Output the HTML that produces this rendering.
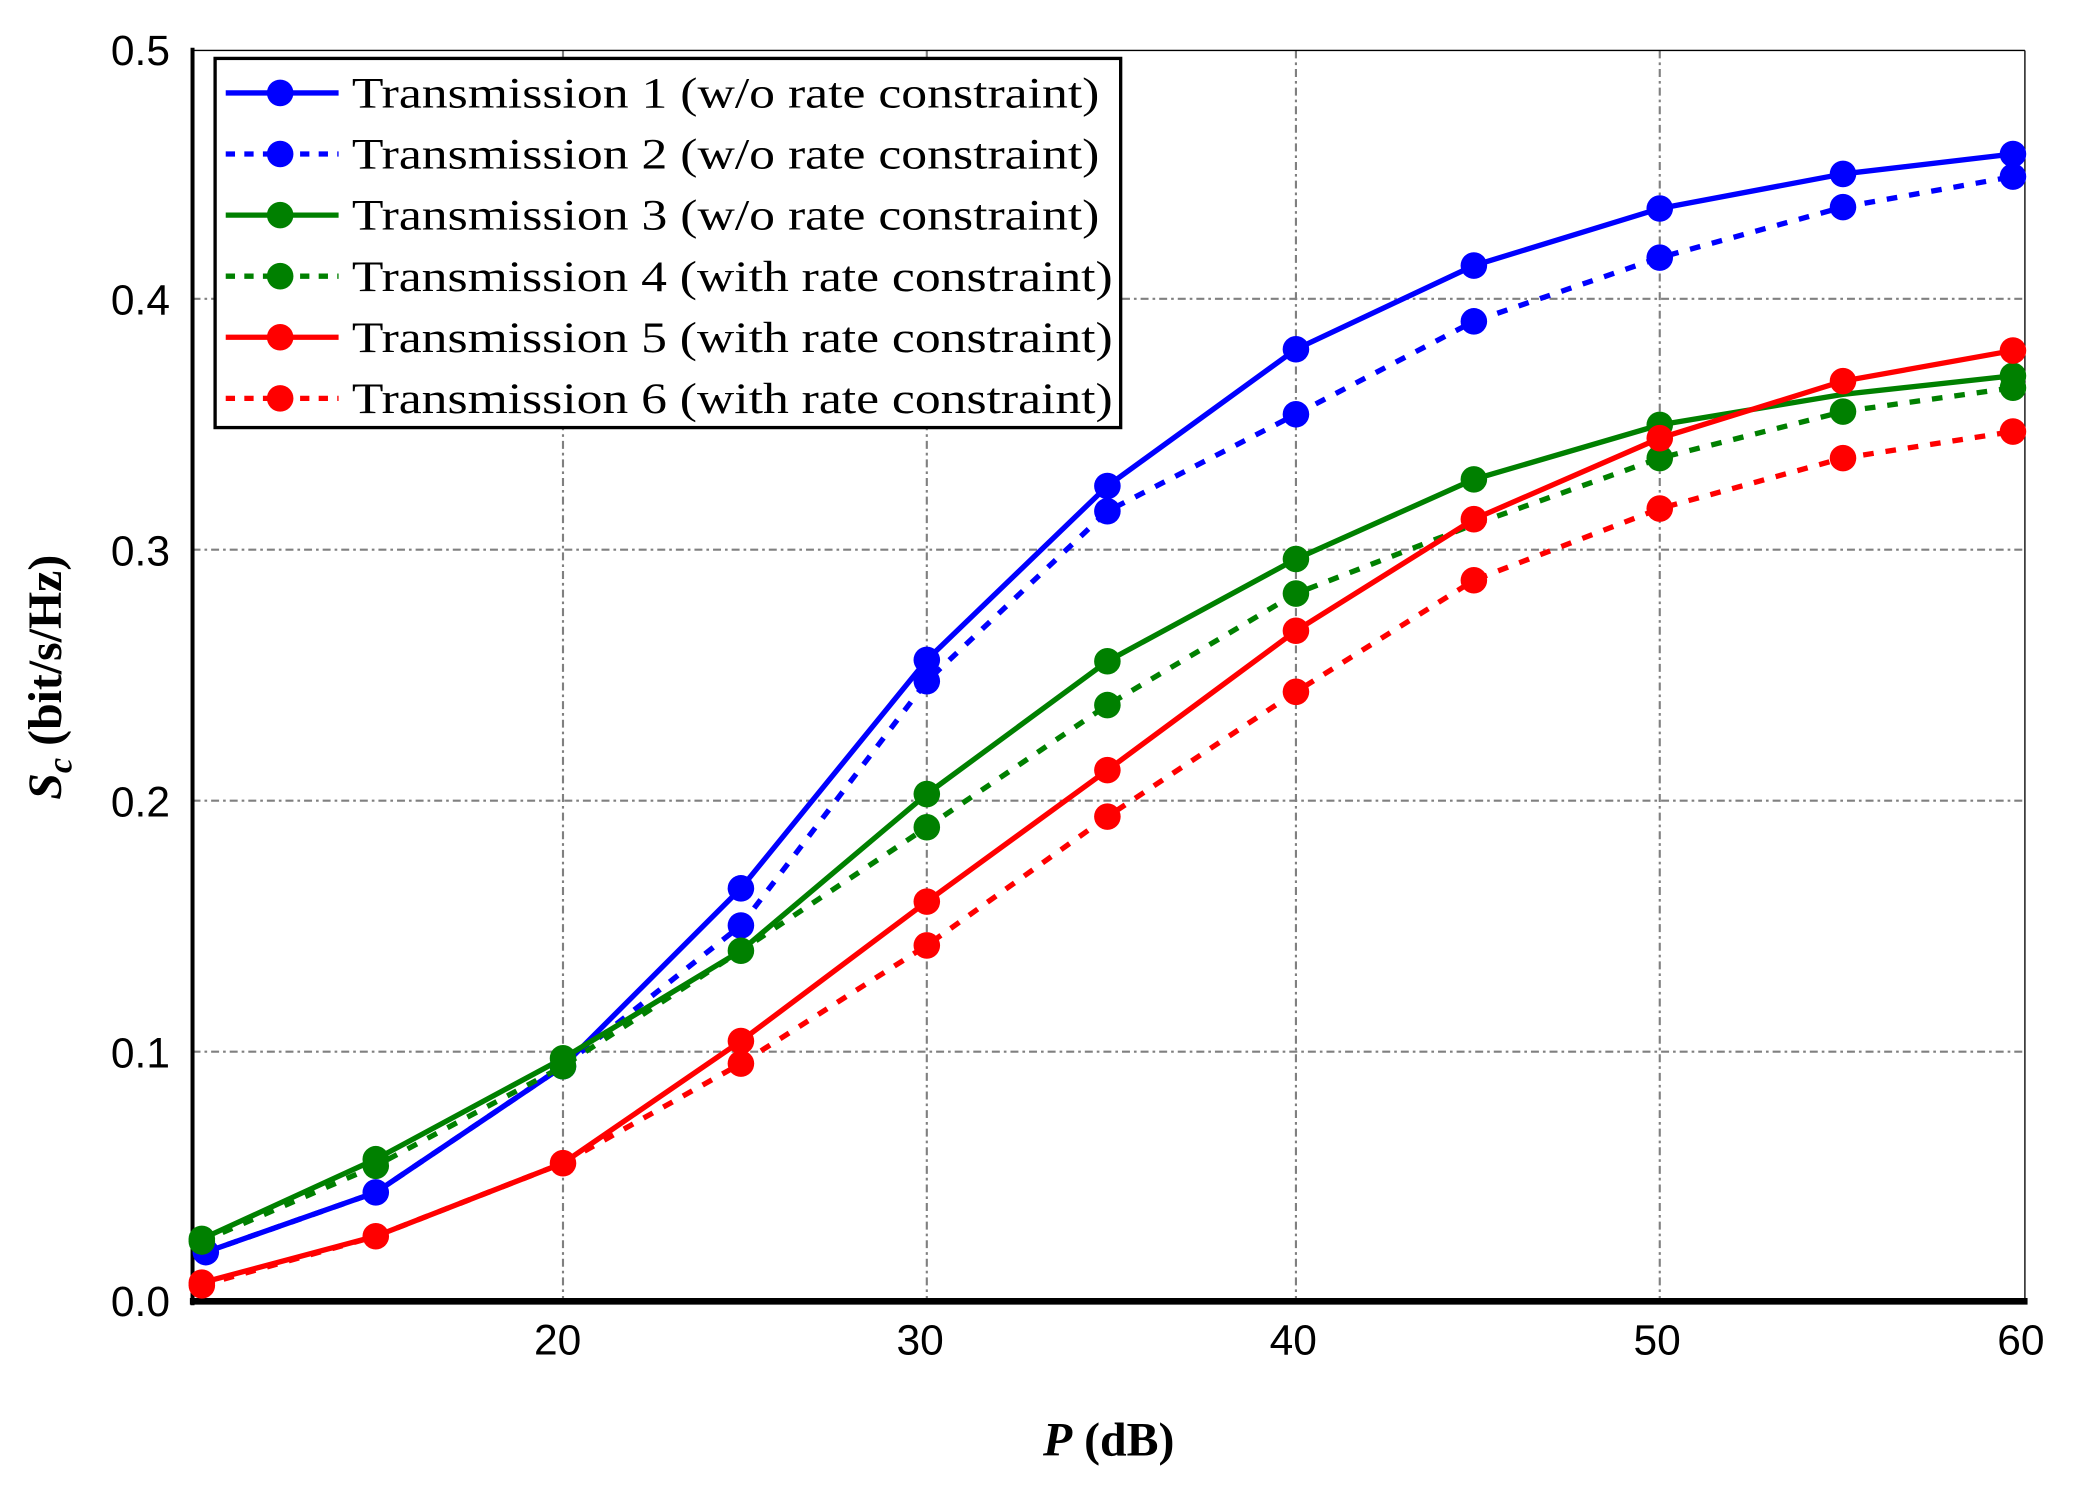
<!DOCTYPE html>
<html><head><meta charset="utf-8"><style>html,body{margin:0;padding:0;background:#fff}svg{display:block}</style></head>
<body>
<svg width="2082" height="1501" viewBox="0 0 1568 1130.4" preserveAspectRatio="none" xmlns="http://www.w3.org/2000/svg">
<rect width="1568" height="1131" fill="#fff"/>
<g stroke="#808080" stroke-width="1.6" stroke-dasharray="6,3,2,3" fill="none">
<line x1="424" y1="38" x2="424" y2="980"/><line x1="698" y1="38" x2="698" y2="980"/>
<line x1="976" y1="38" x2="976" y2="980"/><line x1="1250" y1="38" x2="1250" y2="980"/>
<line x1="145" y1="225" x2="1525" y2="225"/><line x1="145" y1="414" x2="1525" y2="414"/>
<line x1="145" y1="603" x2="1525" y2="603"/><line x1="145" y1="792" x2="1525" y2="792"/>
</g>
<g stroke="#000" fill="none">
<line x1="145" y1="38" x2="1525" y2="38" stroke-width="1"/>
<line x1="1525" y1="38" x2="1525" y2="980" stroke-width="1"/>
<line x1="145" y1="36" x2="145" y2="983" stroke-width="3"/>
<line x1="143" y1="980" x2="1527" y2="980" stroke-width="5"/>
</g>
<g font-family="Liberation Sans, sans-serif" font-size="32" fill="#000" text-anchor="end">
<text x="128" y="49">0.5</text><text x="128" y="237">0.4</text><text x="128" y="426">0.3</text>
<text x="128" y="615">0.2</text><text x="128" y="804">0.1</text><text x="128" y="991">0.0</text>
</g>
<g font-family="Liberation Sans, sans-serif" font-size="32" fill="#000" text-anchor="middle">
<text x="420" y="1020">20</text><text x="693" y="1020">30</text><text x="974" y="1020">40</text>
<text x="1248" y="1020">50</text><text x="1522" y="1020">60</text>
</g>
<text x="835" y="1096" font-family="Liberation Serif, serif" font-weight="bold" font-size="36" text-anchor="middle"><tspan font-style="italic">P</tspan> (dB)</text>
<text transform="translate(46,510) rotate(-90)" font-family="Liberation Serif, serif" font-weight="bold" font-size="36" text-anchor="middle"><tspan font-style="italic">S</tspan><tspan font-style="italic" font-size="26" dy="8">c</tspan><tspan dy="-8"> (bit/s/Hz)</tspan></text>
<g fill="none" stroke-width="4" stroke-linejoin="round">
<polyline stroke="#0000ff" points="155,943 283,898 424,803 558,669 698,497 834,366 976,263 1110,200 1250,157 1388,131 1516,116"/>
<polyline stroke="#0000ff" stroke-dasharray="8,9" points="155,943 283,898 424,803 558,697 698,513 834,385 976,312 1110,242 1250,194 1388,156 1516,133"/>
<polyline stroke="#008000" points="152,933 283,873 424,797 558,716 698,598 834,498 976,421 1110,361 1250,320 1388,297 1516,283"/>
<polyline stroke="#008000" stroke-dasharray="8,9" points="152,935 283,878 424,803 558,716 698,623 834,531 976,447 1110,395 1250,345 1388,310 1516,292"/>
<polyline stroke="#ff0000" points="152,966 283,931 424,876 558,784 698,679 834,580 976,475 1110,391 1250,330 1388,287 1516,264"/>
<polyline stroke="#ff0000" stroke-dasharray="8,9" points="152,968 283,931 424,876 558,801 698,712 834,615 976,521 1110,437 1250,383 1388,345 1516,325"/>
</g>
<g fill="#0000ff">
<circle cx="155" cy="943" r="10"/><circle cx="283" cy="898" r="10"/><circle cx="424" cy="803" r="10"/><circle cx="558" cy="669" r="10"/><circle cx="698" cy="497" r="10"/><circle cx="834" cy="366" r="10"/><circle cx="976" cy="263" r="10"/><circle cx="1110" cy="200" r="10"/><circle cx="1250" cy="157" r="10"/><circle cx="1388" cy="131" r="10"/><circle cx="1516" cy="116" r="10"/>
<circle cx="558" cy="697" r="10"/><circle cx="698" cy="513" r="10"/><circle cx="834" cy="385" r="10"/><circle cx="976" cy="312" r="10"/><circle cx="1110" cy="242" r="10"/><circle cx="1250" cy="194" r="10"/><circle cx="1388" cy="156" r="10"/><circle cx="1516" cy="133" r="10"/>
</g>
<g fill="#008000">
<circle cx="152" cy="933" r="10"/><circle cx="283" cy="873" r="10"/><circle cx="424" cy="797" r="10"/><circle cx="558" cy="716" r="10"/><circle cx="698" cy="598" r="10"/><circle cx="834" cy="498" r="10"/><circle cx="976" cy="421" r="10"/><circle cx="1110" cy="361" r="10"/><circle cx="1250" cy="320" r="10"/><circle cx="1516" cy="283" r="10"/>
<circle cx="152" cy="935" r="10"/><circle cx="283" cy="878" r="10"/><circle cx="424" cy="803" r="10"/><circle cx="698" cy="623" r="10"/><circle cx="834" cy="531" r="10"/><circle cx="976" cy="447" r="10"/><circle cx="1250" cy="345" r="10"/><circle cx="1388" cy="310" r="10"/><circle cx="1516" cy="292" r="10"/>
</g>
<g fill="#ff0000">
<circle cx="152" cy="966" r="10"/><circle cx="283" cy="931" r="10"/><circle cx="424" cy="876" r="10"/><circle cx="558" cy="784" r="10"/><circle cx="698" cy="679" r="10"/><circle cx="834" cy="580" r="10"/><circle cx="976" cy="475" r="10"/><circle cx="1110" cy="391" r="10"/><circle cx="1250" cy="330" r="10"/><circle cx="1388" cy="287" r="10"/><circle cx="1516" cy="264" r="10"/>
<circle cx="152" cy="968" r="10"/><circle cx="558" cy="801" r="10"/><circle cx="698" cy="712" r="10"/><circle cx="834" cy="615" r="10"/><circle cx="976" cy="521" r="10"/><circle cx="1110" cy="437" r="10"/><circle cx="1250" cy="383" r="10"/><circle cx="1388" cy="345" r="10"/><circle cx="1516" cy="325" r="10"/>
</g>
<rect x="162" y="44" width="682" height="278" fill="#fff" stroke="#000" stroke-width="2.5"/>
<g stroke-width="4">
<line x1="170" y1="70" x2="255" y2="70" stroke="#0000ff"/>
<line x1="170" y1="116" x2="255" y2="116" stroke="#0000ff" stroke-dasharray="7,7"/>
<line x1="170" y1="162" x2="255" y2="162" stroke="#008000"/>
<line x1="170" y1="208" x2="255" y2="208" stroke="#008000" stroke-dasharray="7,7"/>
<line x1="170" y1="254" x2="255" y2="254" stroke="#ff0000"/>
<line x1="170" y1="300" x2="255" y2="300" stroke="#ff0000" stroke-dasharray="7,7"/>
</g>
<circle cx="211" cy="70" r="10" fill="#0000ff"/><circle cx="211" cy="116" r="10" fill="#0000ff"/>
<circle cx="211" cy="162" r="10" fill="#008000"/><circle cx="211" cy="208" r="10" fill="#008000"/>
<circle cx="211" cy="254" r="10" fill="#ff0000"/><circle cx="211" cy="300" r="10" fill="#ff0000"/>
<g font-family="Liberation Serif, serif" font-size="33" fill="#000">
<text x="265" y="81" textLength="563" lengthAdjust="spacingAndGlyphs">Transmission 1 (w/o rate constraint)</text>
<text x="265" y="127" textLength="563" lengthAdjust="spacingAndGlyphs">Transmission 2 (w/o rate constraint)</text>
<text x="265" y="173" textLength="563" lengthAdjust="spacingAndGlyphs">Transmission 3 (w/o rate constraint)</text>
<text x="265" y="219" textLength="573" lengthAdjust="spacingAndGlyphs">Transmission 4 (with rate constraint)</text>
<text x="265" y="265" textLength="573" lengthAdjust="spacingAndGlyphs">Transmission 5 (with rate constraint)</text>
<text x="265" y="311" textLength="573" lengthAdjust="spacingAndGlyphs">Transmission 6 (with rate constraint)</text>
</g>
</svg>
</body></html>
